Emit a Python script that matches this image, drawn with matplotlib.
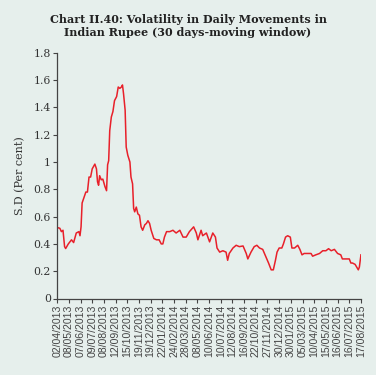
import numpy as np, matplotlib.pyplot as plt
from matplotlib.ticker import FuncFormatter

# trading-day index and 30-day moving SD (per cent)
day = [0, 5, 8, 11, 14, 16, 21, 27, 31, 36, 41, 43, 45, 47, 51, 54, 57, 60, 63, 66,
       71, 74, 76, 78, 80, 83, 86, 90, 93, 95, 97, 99, 102, 105, 108, 112, 115, 118, 121, 123,
       125, 128, 130, 133, 137, 139, 142, 144, 146, 149, 152, 155, 158, 161, 165, 168, 171, 174, 177, 182,
       187, 192, 196, 199, 202, 206, 212, 218, 224, 231, 237, 243, 249, 257, 262, 265, 271, 274, 281, 287,
       293, 298, 301, 306, 312, 318, 321, 324, 331, 337, 343, 350, 356, 359, 365, 371, 376, 381, 387, 393,
       398, 403, 407, 411, 414, 418, 423, 426, 430, 434, 439, 442, 447, 453, 457, 461, 465, 472, 478, 481,
       487, 494, 500, 506, 511, 516, 522, 528, 534, 537, 544, 550, 553, 556, 561, 564, 567, 569, 572]
sd = [0.52, 0.515, 0.49, 0.50, 0.38, 0.366, 0.40, 0.43, 0.41, 0.48, 0.49, 0.46, 0.525, 0.70, 0.745, 0.78, 0.78, 0.89, 0.89, 0.95,
      0.985, 0.95, 0.855, 0.83, 0.90, 0.87, 0.875, 0.82, 0.79, 0.98, 1.01, 1.23, 1.33, 1.37, 1.45, 1.48, 1.55, 1.54, 1.55, 1.565,
      1.50, 1.38, 1.11, 1.05, 1.00, 0.89, 0.84, 0.66, 0.635, 0.67, 0.62, 0.61, 0.525, 0.50, 0.54, 0.55, 0.57, 0.55, 0.50, 0.44,
      0.43, 0.43, 0.40, 0.40, 0.45, 0.49, 0.49, 0.50, 0.48, 0.50, 0.45, 0.45, 0.49, 0.525, 0.48, 0.43, 0.50, 0.46, 0.48, 0.415,
      0.48, 0.45, 0.37, 0.34, 0.35, 0.34, 0.28, 0.33, 0.37, 0.39, 0.38, 0.385, 0.33, 0.29, 0.34, 0.38, 0.39, 0.37, 0.36, 0.305,
      0.26, 0.21, 0.21, 0.28, 0.34, 0.37, 0.37, 0.40, 0.45, 0.46, 0.45, 0.37, 0.37, 0.39, 0.36, 0.32, 0.33, 0.33, 0.33, 0.31,
      0.32, 0.33, 0.35, 0.35, 0.365, 0.35, 0.36, 0.33, 0.32, 0.29, 0.29, 0.29, 0.26, 0.26, 0.25, 0.23, 0.21, 0.23, 0.32]
tick_labels = ['02/04/2013', '08/05/2013', '07/06/2013', '09/07/2013', '08/08/2013', '12/09/2013',
               '15/10/2013', '19/11/2013', '19/12/2013', '22/01/2014', '24/02/2014', '28/03/2014',
               '08/05/2014', '10/06/2014', '10/07/2014', '12/08/2014', '16/09/2014', '22/10/2014',
               '27/11/2014', '30/12/2014', '30/01/2015', '05/03/2015', '10/04/2015', '15/05/2015',
               '16/06/2015', '16/07/2015', '17/08/2015']
step = 22

bg = '#e6efec'; ax_col = '#444444'
fig = plt.figure(figsize=(3.76, 3.75), dpi=100, facecolor=bg)
ax = fig.add_axes([0.152, 0.204, 0.808, 0.655], facecolor=bg)
ax.plot(day, sd, color='#e8202a', lw=1.1)
ax.set_xlim(0, step * (len(tick_labels) - 1))
ax.set_ylim(0, 1.8)
ax.set_yticks(np.arange(0, 1.81, 0.2))
ax.yaxis.set_major_formatter(FuncFormatter(lambda v, p: '%g' % round(v, 1)))
ax.set_xticks(np.arange(len(tick_labels)) * step)
ax.set_xticklabels(tick_labels, rotation=90, fontsize=7.6, family='Liberation Sans', color='#333333')
for s in ['top', 'right']: ax.spines[s].set_visible(False)
for s in ['left', 'bottom']: ax.spines[s].set_color(ax_col); ax.spines[s].set_linewidth(0.9)
ax.tick_params(axis='both', colors=ax_col, length=3, width=0.8, pad=1.5)
for t in ax.get_yticklabels(): t.set_family('DejaVu Serif'); t.set_fontsize(7.8); t.set_color('#333333')
ax.set_ylabel('S.D (Per cent)', family='DejaVu Serif', fontsize=8, color='#333333', labelpad=6)
fig.text(0.5, 0.962, 'Chart II.40: Volatility in Daily Movements in\nIndian Rupee (30 days-moving window)',
         ha='center', va='top', family='DejaVu Serif', fontweight='bold', fontsize=8, color='#222222', linespacing=1.25)
fig.savefig('out.png', dpi=100, facecolor=bg)
